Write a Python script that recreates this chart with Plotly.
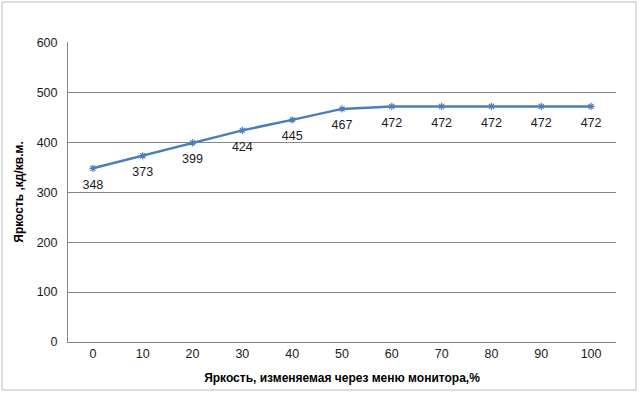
import plotly.graph_objects as go

categories = ["0", "10", "20", "30", "40", "50", "60", "70", "80", "90", "100"]
values = [348, 373, 399, 424, 445, 467, 472, 472, 472, 472, 472]
y_ticks = [0, 100, 200, 300, 400, 500, 600]

x_title = "Яркость, изменяемая через меню монитора,%"
y_title = "Яркость ,кд/кв.м."

font_family = "Liberation Sans, Arial, sans-serif"
line_color = "#4A7EBB"

fig = go.Figure()
fig.add_trace(go.Scatter(
    x=categories,
    y=values,
    mode="lines+markers",
    line=dict(color=line_color, width=2.5),
    marker=dict(symbol="asterisk-open", size=6, color=line_color,
                line=dict(color=line_color, width=1.2)),
    showlegend=False,
    hoverinfo="skip",
))
# data labels (invisible large markers push labels further below points)
fig.add_trace(go.Scatter(
    x=categories,
    y=values,
    mode="markers+text",
    marker=dict(size=16, color="rgba(0,0,0,0)"),
    text=[str(v) for v in values],
    textposition="bottom center",
    textfont=dict(family=font_family, size=12.5, color="#1a1a1a"),
    cliponaxis=False,
    showlegend=False,
    hoverinfo="skip",
))

fig.update_layout(
    width=640,
    height=393,
    margin=dict(l=68, r=24, t=42, b=51),
    paper_bgcolor="white",
    plot_bgcolor="white",
    font=dict(family=font_family, size=12, color="#1a1a1a"),
    xaxis=dict(
        type="category",
        range=[-0.5, 10.5],
        showgrid=False,
        showline=True,
        linecolor="#868686",
        linewidth=1,
        ticks="",
        tickfont=dict(size=12.5, color="#1a1a1a"),
        title=dict(text=x_title, font=dict(size=12, color="#000000", weight="bold"), standoff=13),
        fixedrange=True,
    ),
    yaxis=dict(
        range=[0, 601],
        tickvals=y_ticks,
        showgrid=True,
        gridcolor="#868686",
        gridwidth=1,
        showline=True,
        linecolor="#868686",
        linewidth=1,
        zeroline=False,
        ticks="",
        ticklen=0,
        ticklabelstandoff=7,
        tickfont=dict(size=12.5, color="#1a1a1a"),
        title=dict(text=y_title, font=dict(size=12, color="#000000", weight="bold"), standoff=10),
        fixedrange=True,
    ),
    shapes=[
        dict(type="rect", xref="paper", yref="paper",
             x0=-66/548, x1=1 + 20/548, y0=-48/300, y1=1 + 40/300,
             line=dict(color="#BFBFBF", width=1), fillcolor="rgba(0,0,0,0)"),
    ],
)

fig.write_html("out.html", config={"displayModeBar": False, "staticPlot": True},
               post_script="document.body.style.margin='0';document.body.style.overflow='hidden';")
